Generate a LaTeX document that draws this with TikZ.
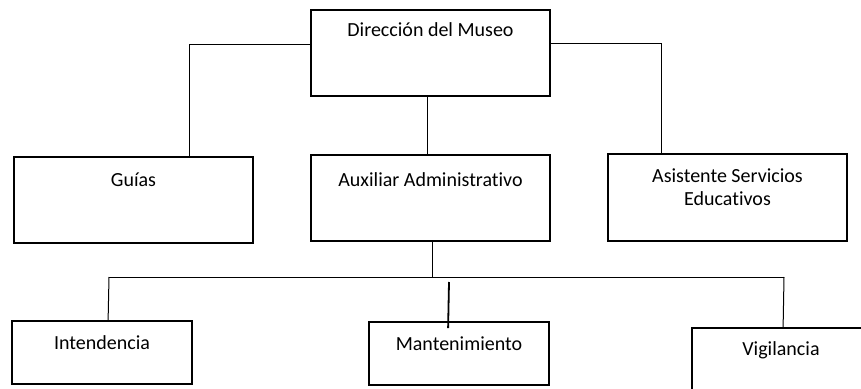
\documentclass[tikz,border=0pt]{standalone}
\usepackage{fontspec}
\setmainfont{Carlito}[Ligatures=NoCommon]
\usetikzlibrary{calc}
\begin{document}
\begin{tikzpicture}[x=1pt,y=-1pt,
  box/.style={draw, line width=1.8pt, inner sep=0pt, rectangle},
  link/.style={draw, line width=1pt},
  thicklink/.style={draw, line width=1.8pt},
  txt/.style={font=\fontsize{20}{24}\selectfont, inner sep=0pt, anchor=base}]
\useasboundingbox (0,0) rectangle (861,388);
\clip (0,0) rectangle (861,388);
% boxes
\node[box, minimum width=239pt, minimum height=86pt] (dir) at (430.5,53) {};
\node[box, minimum width=239pt, minimum height=86pt] (guias) at (133.5,200) {};
\node[box, minimum width=239pt, minimum height=86pt] (aux) at (430.5,198) {};
\node[box, minimum width=239pt, minimum height=87pt] (asist) at (727.5,197.5) {};
\node[box, minimum width=180pt, minimum height=63pt] (inten) at (102,352.5) {};
\node[box, minimum width=180pt, minimum height=63pt] (mant) at (459,353.5) {};
\node[box, minimum width=180pt, minimum height=63pt] (vig) at (782,359.5) {};
% texts
\node[txt] (tdir) at (430.5,36.5) {Dirección del Museo};
\node[txt] (tguias) at (133.5,186) {Guías};
\node[txt] (taux) at (430.5,186) {Auxiliar Administrativo};
\node[txt] (tasist1) at (727.5,182) {Asistente Servicios};
\node[txt] (tasist2) at (727.5,205) {Educativos};
\node[txt] (tinten) at (102,349) {Intendencia};
\node[txt] (tmant) at (459,350.5) {Mantenimiento};
\node[txt] (tvig) at (781,355.5) {Vigilancia};
% connectors
\draw[link] ($(dir.north west)+(0,35)$) -| ($(guias.north west)+(176,0)$);
\draw[link] ($(dir.north east)+(0,34)$) -| ($(asist.north west)+(54,0)$);
\draw[link] ($(dir.south)+(-3,0)$) -- ($(aux.north)+(-3,0)$);
\coordinate (bus) at (432,277);
\coordinate (busL) at (109,277);
\coordinate (busR) at (784,277);
\coordinate (mantTop) at (449,282);
\draw[link] ($(aux.south)+(1.5,0)$) -- (bus);
\draw[link] (busL) -- (busR);
\draw[link] (busL) -- ($(inten.north west)+(97,0)$);
\draw[link] (busR) -- ($(vig.north west)+(92,0)$);
\draw[thicklink] (mantTop) -- ($(mant.north west)+(80,7)$);
\end{tikzpicture}
\end{document}
